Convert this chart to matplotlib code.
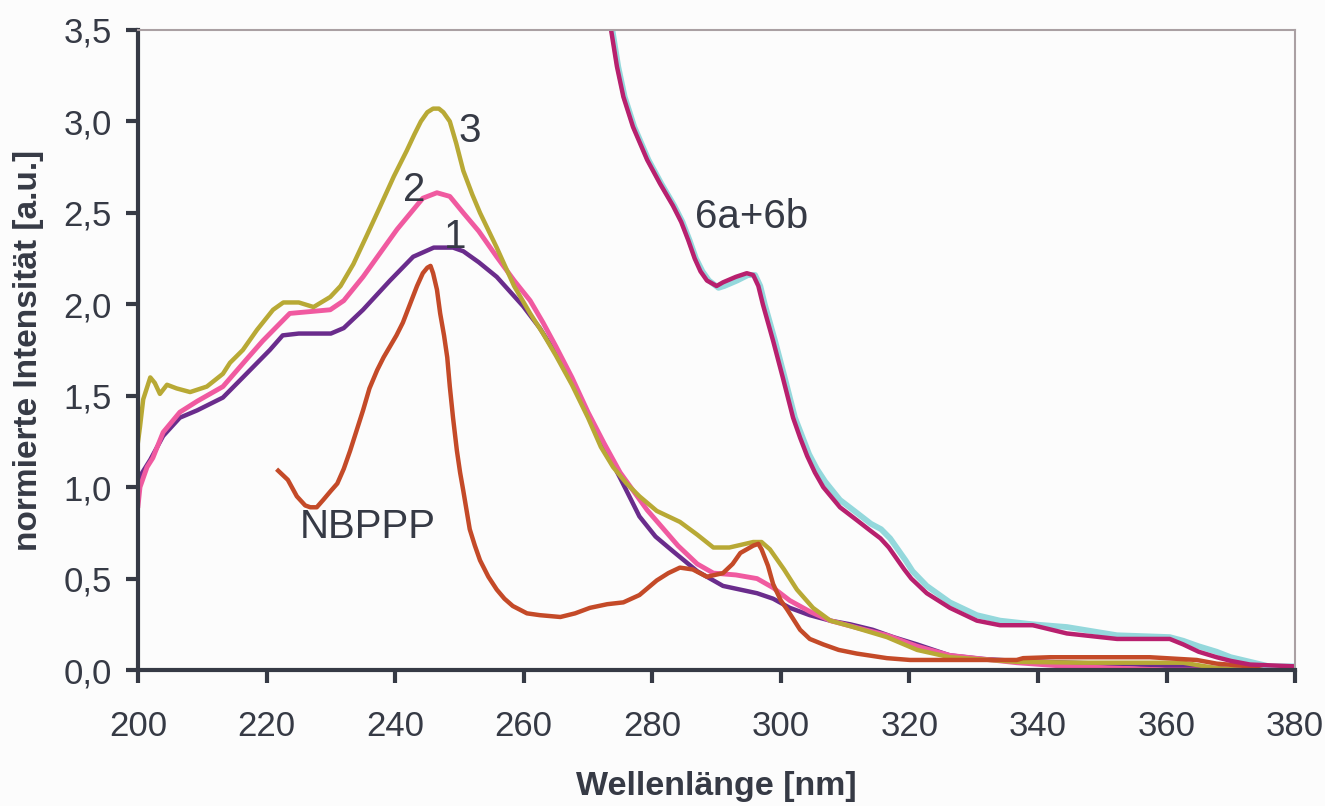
import matplotlib.pyplot as plt

plt.rcParams['font.family'] = ['Liberation Sans', 'DejaVu Sans']

# curve 1 (purple)
x1 = [200, 200.3, 201.9, 203.9, 206.5, 209.2, 213.2, 216.3, 220.5, 222.5, 225, 230, 232, 235, 239.2, 242.8, 246, 249,
      250.6, 253, 255.8, 259.9, 262.5, 265, 267.5, 270, 272.5, 275, 278, 280.5, 283.2, 287, 291, 296.3, 298.8, 301.4,
      304.5, 307.7, 310.8, 314.3, 317.5, 321.2, 326.3, 331.5, 336.7, 345, 355, 362, 368, 372, 380]
y1 = [0.95, 1.06, 1.15, 1.28, 1.38, 1.42, 1.49, 1.60, 1.75, 1.83, 1.84, 1.84, 1.87, 1.97, 2.13, 2.26, 2.31, 2.31,
      2.29, 2.23, 2.15, 1.99, 1.87, 1.73, 1.57, 1.40, 1.22, 1.05, 0.84, 0.73, 0.65, 0.54, 0.46, 0.42, 0.39, 0.34,
      0.30, 0.27, 0.25, 0.22, 0.18, 0.14, 0.08, 0.06, 0.05, 0.04, 0.03, 0.02, 0.01, 0.0, 0.0]

# curve 2 (pink)
x2 = [200, 200.3, 201.4, 202.3, 203.9, 206.5, 209.2, 213.2, 216.9, 219.4, 223.6, 229.9, 232, 235, 240.3, 244.3, 246.5,
      248.5, 250.6, 253, 255.8, 258.5, 261, 263, 265, 267.5, 270, 272.5, 275, 279.2, 284, 287, 289.5, 293, 296.3,
      298.8, 301.4, 304.5, 307.7, 312, 316.5, 321.2, 326.3, 331.5, 336.7, 344.5, 352.3, 360, 368, 380]
y2 = [0.9, 1.0, 1.11, 1.16, 1.30, 1.41, 1.47, 1.55, 1.70, 1.80, 1.95, 1.97, 2.02, 2.15, 2.41, 2.58, 2.61,
      2.59, 2.50, 2.40, 2.26, 2.13, 2.02, 1.90, 1.77, 1.60, 1.41, 1.24, 1.08, 0.875, 0.68, 0.58, 0.53, 0.52, 0.50,
      0.45, 0.38, 0.32, 0.27, 0.23, 0.19, 0.13, 0.08, 0.06, 0.04, 0.02, 0.01, 0.0, 0.0, 0.0]

# curve 3 (olive)
x3 = [200, 200.3, 200.8, 201.9, 202.6, 203.4, 204.5, 206, 208.1, 210.7, 213.2, 214.3, 216.3, 218.5, 221, 222.6,
      225, 227.3, 229.9, 231.5, 233.5, 235.5, 237.6, 239.8, 241.8, 243, 244, 245, 245.9, 246.8, 247.5, 248.5, 249.5,
      250.6, 252, 253.2, 255.8, 258.5, 261, 263, 265, 267.5, 270, 272, 273.9, 276, 278, 280.7, 284.3, 287, 289.5,
      292, 295.7, 297, 298.3, 300.5, 302.5, 305, 307.7, 310.8, 316.5, 321.2, 326.3, 336.7, 347, 362.6, 367.8,
      372, 380]
y3 = [1.25, 1.33, 1.48, 1.60, 1.57, 1.51, 1.56, 1.54, 1.52, 1.55, 1.62, 1.68, 1.75, 1.86, 1.97, 2.01,
      2.01, 1.985, 2.04, 2.10, 2.22, 2.37, 2.53, 2.70, 2.84, 2.93, 3.0, 3.05, 3.07, 3.07, 3.05, 3.0, 2.88,
      2.73, 2.60, 2.5, 2.31, 2.1, 1.95, 1.84, 1.72, 1.56, 1.38, 1.22, 1.11, 1.02, 0.95, 0.87, 0.81, 0.74, 0.67,
      0.67, 0.70, 0.70, 0.66, 0.55, 0.44, 0.34, 0.27, 0.24, 0.18, 0.11, 0.07, 0.045,
      0.04, 0.04, 0.01, 0.0, 0.0]

# NBPPP (red)
x4 = [221.8, 223.3, 224.7, 226, 226.8, 227.8, 228.8, 230, 231, 232, 233, 234, 235, 236, 237.2, 238.2, 239.2, 240.2,
      241.2, 242.3, 243.4, 244.3, 245, 245.5, 245.9, 246.5, 247, 247.6, 248.1, 248.5, 249, 249.6, 250.1, 250.6,
      251.6, 252.4, 253.2, 254.5, 255.8, 257, 258.3, 260.5, 262.5, 265.7, 268, 270.3, 273, 275.5, 278, 280.7,
      282.5, 284.3, 286.3, 288.5, 291, 292.5, 293.7, 295.7, 296.5, 297, 298, 298.8, 300, 301, 303, 304.5, 306.6,
      309, 311.8, 316.5, 320.1, 336.7, 337.7, 341.9, 357.4, 364.7, 367.8, 373, 380]
y4 = [1.09, 1.04, 0.95, 0.90, 0.89, 0.89, 0.93, 0.98, 1.02, 1.10, 1.20, 1.31, 1.42, 1.54, 1.64, 1.71, 1.77, 1.83,
      1.90, 2.0, 2.10, 2.17, 2.20, 2.21, 2.17, 2.08, 1.95, 1.83, 1.71, 1.55, 1.38, 1.20, 1.08, 0.98,
      0.77, 0.68, 0.60, 0.51, 0.44, 0.39, 0.35, 0.31, 0.30, 0.29, 0.31, 0.34, 0.36, 0.37, 0.41, 0.49,
      0.53, 0.56, 0.55, 0.51, 0.53, 0.58, 0.64, 0.68, 0.69, 0.66, 0.57, 0.47, 0.38, 0.33, 0.22, 0.17, 0.14,
      0.11, 0.09, 0.065, 0.055, 0.055, 0.065, 0.07, 0.07, 0.055, 0.035, 0.02, 0.02]

# 6a+6b (magenta and cyan)
x5 = [273.5, 274.5, 275.5, 277, 279.2, 281.2, 283.2, 284.5, 285.6, 286.6, 287.5, 288.5, 290, 291, 293, 294.7, 295.7,
      296.5, 297.2, 298.8, 300.3, 301.9, 303, 304.1, 305.3, 306.6, 309.2, 311.8, 314, 315.5, 316.8, 318, 319.2, 320.3,
      322.7, 326.3, 330.5, 334.1, 339.2, 344.5, 352.3, 360.5, 362.6, 365, 367.8, 370, 373, 380]
y5 = [3.52, 3.30, 3.135, 2.97, 2.79, 2.66, 2.54, 2.45, 2.35, 2.25, 2.18, 2.13, 2.10, 2.12, 2.15, 2.17, 2.16,
      2.10, 2.0, 1.8, 1.6, 1.38, 1.27, 1.17, 1.08, 1.0, 0.89, 0.82, 0.76, 0.72, 0.67, 0.61, 0.55, 0.50,
      0.42, 0.34, 0.27, 0.245, 0.245, 0.2, 0.17, 0.17, 0.14, 0.10, 0.07, 0.05, 0.03, 0.02]
x6 = [273.7, 274.7, 275.7, 277.2, 279.4, 281.4, 283.4, 284.7, 285.8, 286.8, 287.8, 288.8, 290.3, 291.2, 293.2, 294.9,
      296, 296.8, 297.5, 299.1, 300.6, 302.2, 303.3, 304.4, 305.6, 306.9, 309.2, 311.8, 314, 315.6, 317, 318.2, 319.4,
      320.5, 322.7, 326.3, 330.5, 334.1, 339.2, 344.5, 352.3, 360.5, 362.6, 365, 367.8, 370, 373, 376, 380]
y6 = [3.52, 3.30, 3.135, 2.97, 2.79, 2.66, 2.54, 2.45, 2.35, 2.25, 2.18, 2.13, 2.09, 2.10, 2.13, 2.16,
      2.16, 2.10, 2.0, 1.8, 1.6, 1.38, 1.28, 1.18, 1.10, 1.03, 0.93, 0.86, 0.80, 0.77, 0.72, 0.66, 0.60,
      0.54, 0.46, 0.37, 0.30, 0.27, 0.25, 0.235, 0.19, 0.18, 0.16, 0.13, 0.10, 0.07, 0.045, 0.02, 0.02]

xticks = [200, 220, 240, 260, 280, 300, 320, 340, 360, 380]
yticks = [0.0, 0.5, 1.0, 1.5, 2.0, 2.5, 3.0, 3.5]
ytick_labels = ['0,0', '0,5', '1,0', '1,5', '2,0', '2,5', '3,0', '3,5']

labels = ['3', '2', '1', 'NBPPP', '6a+6b']
label_x = [251.6, 242.9, 249.3, 235.7, 295.5]
label_y = [2.95, 2.625, 2.37, 0.78, 2.48]

dark = '#363a45'
fig = plt.figure(figsize=(13.25, 8.06), dpi=100, facecolor='#fcfcfc')
ax = fig.add_axes([0.1042, 0.1687, 0.8732, 0.7941])
ax.set_facecolor('#fcfcfc')

lw = 3.2
ax.plot(x1, y1, color='#6a2c8c', lw=lw)
ax.plot(x2, y2, color='#f05aa0', lw=lw + 0.3)
ax.plot(x3, y3, color='#b8a935', lw=lw)
ax.plot(x4, y4, color='#c44a28', lw=lw)
ax.plot(x6, y6, color='#94d8dc', lw=lw + 1)
ax.plot(x5, y5, color='#b8206e', lw=lw)

for t, lx, ly in zip(labels, label_x, label_y):
    ax.text(lx, ly, t, fontsize=29, color=dark, ha='center', va='center')

ax.set_xlim(200, 380)
ax.set_ylim(0, 3.5)
ax.set_xticks(xticks)
ax.set_yticks(yticks)
ax.set_yticklabels(ytick_labels)
ax.tick_params(axis='both', labelsize=25, colors=dark, width=3, length=9, direction='out')
ax.tick_params(axis='x', pad=20)
ax.tick_params(axis='y', pad=10)

for s in ['left', 'bottom']:
    ax.spines[s].set_color(dark)
    ax.spines[s].set_linewidth(3)
for s in ['top', 'right']:
    ax.spines[s].set_color('#aaa0a3')
    ax.spines[s].set_linewidth(1.5)

ax.set_xlabel('Wellenlänge [nm]', fontsize=24.5, fontweight='bold', color=dark, labelpad=20)
ax.set_ylabel('normierte Intensität [a.u.]', fontsize=24, fontweight='bold', color=dark, labelpad=14)

fig.savefig('out.png', dpi=100, facecolor=fig.get_facecolor())
